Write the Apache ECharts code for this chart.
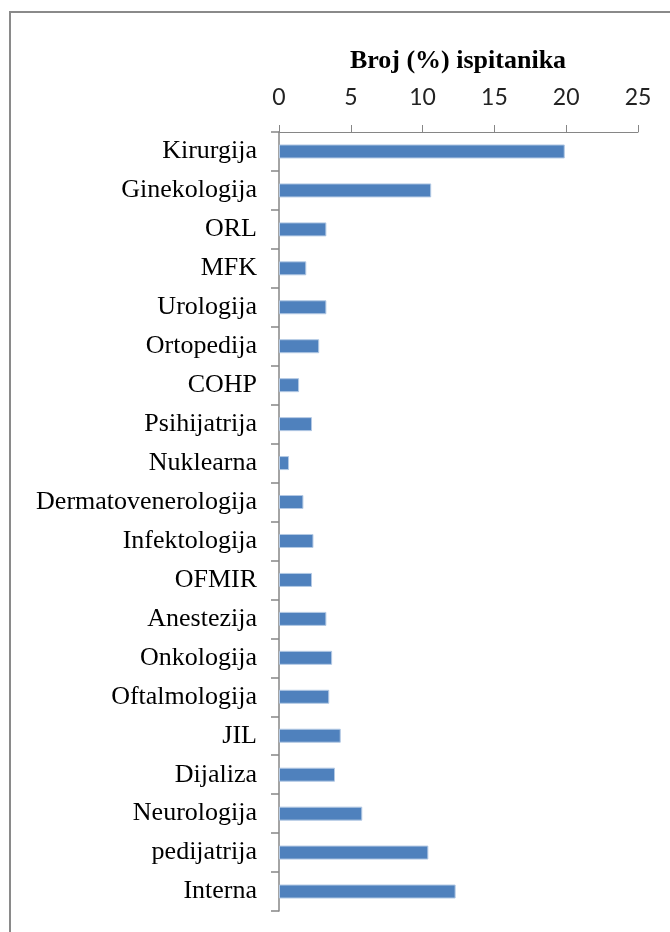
<!DOCTYPE html>
<html>
<head>
<meta charset="utf-8">
<script src="https://cdn.jsdelivr.net/npm/echarts@6/dist/echarts.min.js"></script>
<style>
html,body{margin:0;padding:0;background:#fff;}
#main{width:670px;height:932px;}
</style>
</head>
<body>
<div id="main"></div>
<script>
var titleText = 'Broj (%) ispitanika';
var categories = ['Kirurgija','Ginekologija','ORL','MFK','Urologija','Ortopedija','COHP','Psihijatrija','Nuklearna','Dermatovenerologija','Infektologija','OFMIR','Anestezija','Onkologija','Oftalmologija','JIL','Dijaliza','Neurologija','pedijatrija','Interna'];
var values = [19.9, 10.6, 3.3, 1.9, 3.3, 2.8, 1.4, 2.3, 0.7, 1.7, 2.4, 2.3, 3.3, 3.7, 3.5, 4.3, 3.9, 5.8, 10.4, 12.3];
var axisMin = 0, axisMax = 25, axisStep = 5;

var chart = echarts.init(document.getElementById('main'), null, {renderer:'canvas'});
chart.setOption({
  animation:false,
  backgroundColor:'#ffffff',
  grid:{left:279, right:32, top:132, bottom:21, containLabel:false},
  graphic:[
    {type:'rect', shape:{x:10, y:12, width:720, height:980}, style:{fill:'none', stroke:'#8a8a8a', lineWidth:2}, silent:true},
    {type:'text', x:458, y:61, style:{text:titleText, font:'bold 26px "Liberation Serif", "Times New Roman", serif', fill:'#000', textAlign:'center', textVerticalAlign:'middle'}}
  ],
  xAxis:{
    type:'value', position:'top', min:axisMin, max:axisMax, interval:axisStep,
    axisLine:{show:true, lineStyle:{color:'#868686', width:1}},
    axisTick:{show:true, inside:false, length:7, lineStyle:{color:'#868686'}},
    axisLabel:{margin:23, color:'#222', fontFamily:'Lato', fontSize:23},
    splitLine:{show:false}
  },
  yAxis:{
    type:'category', data:categories, inverse:true,
    axisLine:{show:true, lineStyle:{color:'#868686', width:1.5}},
    axisTick:{show:true, inside:false, length:8, alignWithLabel:false, lineStyle:{color:'#868686', width:1.5}},
    axisLabel:{margin:22, color:'#000', fontFamily:'"Liberation Serif", "Times New Roman", serif', fontSize:26, interval:0},
    splitLine:{show:false}
  },
  series:[{
    type:'bar', data:values, barWidth:14,
    itemStyle:{color:'#4f81bd', borderColor:'#b3c9e4', borderWidth:1}
  }]
});
</script>
</body>
</html>
